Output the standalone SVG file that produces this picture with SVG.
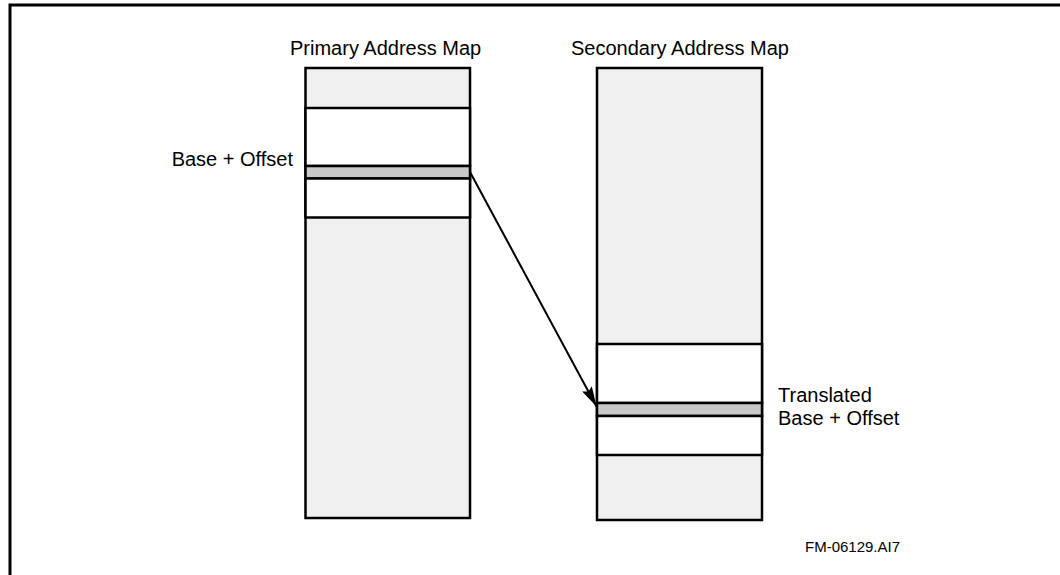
<svg xmlns="http://www.w3.org/2000/svg" width="1060" height="575" viewBox="0 0 1060 575">
<style>
.t{font-family:"Liberation Sans",Arial,sans-serif;font-size:20px;fill:#000}
.lt{fill:#f0f0f0;stroke:#000;stroke-width:2.5}
.wh{fill:#fff;stroke:#000;stroke-width:2.5}
.gr{fill:#c8c8c8;stroke:#000;stroke-width:2.5}
</style>
<defs>
<marker id="ah" viewBox="0 0 20 11" refX="20" refY="5.5" markerWidth="20" markerHeight="11" markerUnits="userSpaceOnUse" orient="auto">
<path d="M0,0 L20,5.5 L0,11 L3,5.5 z" fill="#000"/>
</marker>
</defs>
<rect width="1060" height="575" fill="#fff"/>
<path d="M10,575 V5 H1060" fill="none" stroke="#000" stroke-width="3"/>
<g id="primary">
<text class="t" x="290" y="55">Primary Address Map</text>
<rect class="lt" x="305.5" y="68" width="164.5" height="450"/>
<rect class="wh" x="305.5" y="108" width="164.5" height="58"/>
<rect class="gr" x="305.5" y="166" width="164.5" height="12.5"/>
<rect class="wh" x="305.5" y="178.5" width="164.5" height="39"/>
<text class="t" x="293" y="166" text-anchor="end">Base + Offset</text>
</g>
<g id="secondary">
<text class="t" x="571" y="55">Secondary Address Map</text>
<rect class="lt" x="597" y="68" width="165" height="452"/>
<rect class="wh" x="597" y="344" width="165" height="59"/>
<rect class="gr" x="597" y="403" width="165" height="13"/>
<rect class="wh" x="597" y="416" width="165" height="39"/>
<text class="t" x="778" y="402">Translated</text>
<text class="t" x="778" y="425">Base + Offset</text>
</g>
<g id="connectors">
<line x1="470" y1="172" x2="596.5" y2="406.5" stroke="#000" stroke-width="2" marker-end="url(#ah)"/>
</g>
<text class="t" x="805" y="552" style="font-size:15px">FM-06129.AI7</text>
</svg>
